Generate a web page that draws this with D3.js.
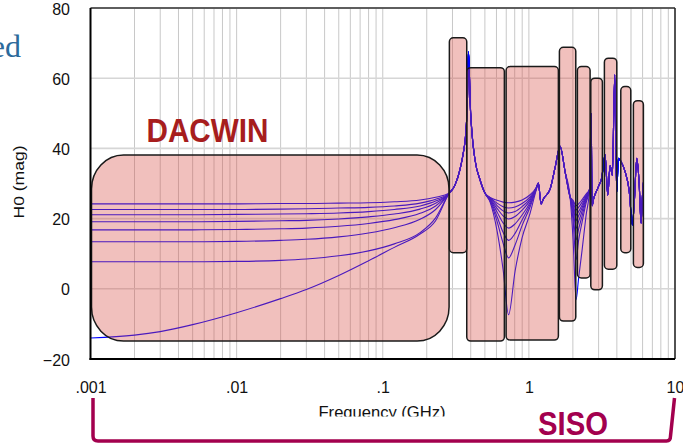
<!DOCTYPE html>
<html><head><meta charset="utf-8">
<script src="https://cdn.jsdelivr.net/npm/d3@7"></script>
<style>
html,body{margin:0;padding:0;background:#fff;}
svg{display:block;font-family:"Liberation Sans",Arial,sans-serif;}
</style></head><body>
<svg id="chart" width="683" height="444"></svg>
<script>
// ---- axis ticks ----
const xTicks = [0.001, 0.01, 0.1, 1, 10];
const xTickLabels = [".001", ".01", ".1", "1", "10"];
const yTicks = [-20, 0, 20, 40, 60, 80];

// ---- H0 magnitude responses (8 terminations), frequency in GHz ----
// low-frequency part, one row per response
const lowFreq = [0.001, 0.002, 0.003, 0.005, 0.01, 0.02, 0.03, 0.05, 0.08, 0.12, 0.18, 0.23, 0.2844];
const lowMag = [
  [24.2, 24.2, 24.2, 24.2, 24.2, 24.3, 24.3, 24.4, 24.5, 24.8, 25.3, 26.1, 27.2],
  [22.6, 22.6, 22.6, 22.6, 22.6, 22.7, 22.8, 23.0, 23.2, 23.6, 24.4, 25.5, 27.2],
  [21.1, 21.1, 21.1, 21.1, 21.2, 21.3, 21.4, 21.6, 22.0, 22.6, 23.6, 25.0, 27.2],
  [19.1, 19.1, 19.1, 19.1, 19.2, 19.4, 19.5, 19.9, 20.5, 21.3, 22.7, 24.4, 27.2],
  [16.8, 16.8, 16.8, 16.8, 16.9, 17.1, 17.3, 17.8, 18.6, 19.7, 21.5, 23.6, 27.2],
  [13.4, 13.4, 13.4, 13.4, 13.5, 13.8, 14.1, 14.8, 15.9, 17.4, 19.8, 22.6, 27.2],
  [7.7, 7.7, 7.7, 7.7, 7.8, 8.1, 8.5, 9.4, 10.8, 12.8, 16.0, 20.2, 27.2],
  [-14.0, -13.2, -12.2, -10.2, -6.8, -2.8, -0.2, 3.8, 8.0, 11.8, 15.6, 19.4, 27.2]
];
// first resonance, common to all responses
const riseFreq = [0.3126, 0.3382, 0.3561, 0.3700, 0.3804, 0.3856, 0.3914, 0.3958, 0.4066, 0.4282, 0.4634, 0.5014];
const riseMag = [29.6, 34.1, 38.8, 44.3, 55.0, 67.5, 62.0, 54.1, 45.2, 36.7, 31.0, 27.2];
// first anti-resonance, one row per response
const fan1Freq = [0.5426, 0.6058, 0.6660, 0.7261, 0.8045, 0.8983, 1.0190, 1.1202];
const fan1Mag = [
  [26.0, 25.2, 24.7, 24.5, 24.7, 25.3, 26.8, 28.8],
  [26.0, 24.4, 23.4, 23.0, 23.3, 24.3, 26.2, 28.7],
  [25.8, 23.7, 22.2, 21.6, 22.0, 23.4, 25.7, 28.6],
  [25.6, 22.9, 20.8, 19.9, 20.6, 22.4, 25.2, 28.5],
  [25.4, 21.9, 18.8, 17.3, 18.5, 21.0, 24.6, 28.4],
  [25.2, 20.6, 16.1, 13.8, 15.8, 19.6, 24.0, 28.3],
  [25.0, 19.2, 13.0, 8.8, 12.5, 18.0, 23.3, 28.2],
  [24.7, 16.5, 5.5, -7.4, 5.0, 14.5, 21.5, 28.0]
];
// common middle section
const midFreq = [1.1614, 1.2118, 1.2567, 1.3971, 1.511, 1.635, 1.769, 1.914];
const midMag = [30.1, 24.2, 25.6, 28.4, 34.5, 40.6, 33.4, 26.2];
// second anti-resonance, one row per response
const fan2Freq = [2.007, 2.104, 2.189, 2.313, 2.464];
const fan2Mag = [
  [25.2, 23.7, 24.2, 25.4, 27.0],
  [24.8, 22.5, 23.2, 24.7, 26.7],
  [24.2, 21.0, 22.0, 23.9, 26.4],
  [23.5, 19.5, 20.8, 23.1, 26.1],
  [22.6, 17.3, 19.2, 22.1, 25.7],
  [21.3, 14.0, 17.0, 20.8, 25.2],
  [19.5, 8.3, 13.8, 19.0, 24.5],
  [14.0, -3.1, 3.0, 11.0, 21.0]
];
// common high-frequency tail
const tailFreq = [2.604, 2.666, 2.708, 2.773, 2.991, 3.155, 3.323, 3.467, 3.595, 3.728, 3.87, 3.99, 4.099, 4.277, 4.554, 4.852, 5.111, 5.275, 5.478, 5.680, 5.862, 5.983, 6.078];
const tailMag = [28.4, 50.0, 23.7, 25.6, 29.1, 31.7, 38.2, 26.7, 35.1, 32.3, 61.0, 27.5, 37.2, 36.2, 33.4, 28.1, 18.2, 25.3, 37.2, 30.3, 18.7, 26.3, 30.3];

// ---- SISO bands: frequency span (GHz) and magnitude span ----
const bandLo = [0.2857, 0.3757, 0.6985, 1.618, 2.148, 2.653, 3.287, 4.256, 5.191];
const bandHi = [0.3757, 0.6797, 1.592, 2.094, 2.624, 3.185, 3.997, 4.982, 6.078];
const bandTop = [71.5, 63.0, 63.3, 68.8, 63.3, 60.0, 65.7, 57.6, 53.6];
const bandBottom = [10.3, -14.9, -14.6, -9.2, 3.1, -0.3, 5.6, 10.3, 6.1];
// ---- DACWIN band ----
const dacwinSpan = [0.001016, 0.2844];
const dacwinMag = [-14.9, 38.1];

const svg = d3.select("#chart");
const W = 683, H = 444;
const plotLeft = 90.5, plotRight = 675, plotTop = 8, plotBottom = 359;

const x = d3.scaleLog().domain([0.001, 10]).range([plotLeft, plotRight]);
const y = d3.scaleLinear().domain([-20, 80]).range([plotBottom, plotTop]);

// cut-off heading text at the top left
svg.append("text").attr("x", 21).attr("y", 57).attr("text-anchor", "end")
  .attr("font-family", "'Liberation Serif', serif").attr("font-size", 32)
  .attr("fill", "#2b6a9b").text("ed");

// grid
const grid = svg.append("g");
grid.selectAll("line.v").data(x.ticks()).join("line")
  .attr("x1", d => x(d)).attr("x2", d => x(d)).attr("y1", plotTop).attr("y2", plotBottom)
  .attr("stroke", "#c8c8c8").attr("stroke-width", 1);
grid.selectAll("line.h").data(yTicks).join("line")
  .attr("x1", plotLeft).attr("x2", plotRight).attr("y1", d => y(d)).attr("y2", d => y(d))
  .attr("stroke", "#d6d6d6").attr("stroke-width", 1.6);

// build each response from its segments
const responses = lowMag.map((row, i) => {
  const f = [].concat(lowFreq, riseFreq, fan1Freq, midFreq, fan2Freq, tailFreq);
  const m = [].concat(row, riseMag, fan1Mag[i], midMag, fan2Mag[i], tailMag);
  return f.map((fv, k) => [fv, m[k]]);
});

const line = d3.line().x(d => x(d[0])).y(d => y(d[1])).curve(d3.curveMonotoneX);
svg.append("g").selectAll("path").data(responses).join("path")
  .attr("d", line).attr("fill", "none").attr("stroke", "#0000ff").attr("stroke-width", 1.1);

// translucent bands drawn over the responses
const fill = "rgba(215,75,66,0.35)";
svg.append("rect")
  .attr("x", x(dacwinSpan[0])).attr("width", x(dacwinSpan[1]) - x(dacwinSpan[0]))
  .attr("y", y(dacwinMag[1])).attr("height", y(dacwinMag[0]) - y(dacwinMag[1]))
  .attr("rx", 32).attr("ry", 34)
  .attr("fill", fill).attr("stroke", "#1a1a1a").attr("stroke-width", 1.5);

svg.append("g").selectAll("rect").data(bandLo).join("rect")
  .attr("x", (d, i) => x(bandLo[i])).attr("width", (d, i) => x(bandHi[i]) - x(bandLo[i]))
  .attr("y", (d, i) => y(bandTop[i])).attr("height", (d, i) => y(bandBottom[i]) - y(bandTop[i]))
  .attr("rx", 4).attr("ry", 4)
  .attr("fill", fill).attr("stroke", "#1a1a1a").attr("stroke-width", 1.5);

// frame
svg.append("line").attr("x1", plotLeft).attr("x2", plotRight).attr("y1", plotTop).attr("y2", plotTop).attr("stroke", "#333").attr("stroke-width", 1.5);
svg.append("line").attr("x1", plotRight).attr("x2", plotRight).attr("y1", plotTop).attr("y2", plotBottom).attr("stroke", "#222").attr("stroke-width", 1.5);
svg.append("line").attr("x1", plotLeft).attr("x2", plotLeft).attr("y1", plotTop).attr("y2", plotBottom + 1).attr("stroke", "#000").attr("stroke-width", 2);
svg.append("line").attr("x1", plotLeft - 1).attr("x2", plotRight).attr("y1", plotBottom).attr("y2", plotBottom).attr("stroke", "#000").attr("stroke-width", 2);

// axes labels
const xa = svg.append("g").attr("transform", `translate(0,${plotBottom})`)
  .call(d3.axisBottom(x).tickValues(xTicks).tickFormat((d, i) => xTickLabels[i]).tickSize(0).tickPadding(22.6));
xa.select(".domain").remove();
xa.selectAll("text").attr("font-size", 16).attr("font-family", "'Liberation Sans',Arial,sans-serif").attr("fill", "#111");

const ya = svg.append("g").attr("transform", `translate(${plotLeft},0)`)
  .call(d3.axisLeft(y).tickValues(yTicks).tickFormat(d3.format("d")).tickSize(0).tickPadding(20.5));
ya.select(".domain").remove();
ya.selectAll("text").attr("font-size", 16).attr("font-family", "'Liberation Sans',Arial,sans-serif").attr("fill", "#111").attr("dy", "0.38em");

svg.append("text").attr("transform", "translate(24,182) rotate(-90)")
  .attr("text-anchor", "middle").attr("font-size", 15).attr("fill", "#111")
  .attr("textLength", 73).attr("lengthAdjust", "spacingAndGlyphs").text("H0 (mag)");

svg.append("clipPath").attr("id", "xlabClip").append("rect")
  .attr("x", 0).attr("y", 395).attr("width", W).attr("height", 21.5);
svg.append("text").attr("x", 382).attr("y", 417.5).attr("text-anchor", "middle")
  .attr("clip-path", "url(#xlabClip)")
  .attr("font-size", 16).attr("fill", "#111")
  .attr("textLength", 127).attr("lengthAdjust", "spacingAndGlyphs").text("Frequency (GHz)");

// annotations
svg.append("text").attr("x", 207.5).attr("y", 142.3).attr("text-anchor", "middle")
  .attr("font-size", 33).attr("font-weight", "bold").attr("fill", "#a71d1d")
  .attr("textLength", 122).attr("lengthAdjust", "spacingAndGlyphs").text("DACWIN");

const sisoColor = "#a3004e";
const bx0 = x(0.001) + 2.5, bx1 = x(10) - 0.5;
svg.append("path")
  .attr("d", `M${bx0},398 L${bx0},436 Q${bx0},441 ${bx0 + 5},441 L${bx1 - 8},441 Q${bx1 - 4},441 ${bx1 - 4},436 L${bx1},398`)
  .attr("fill", "none").attr("stroke", sisoColor).attr("stroke-width", 3.5);
svg.append("text").attr("x", 573).attr("y", 435).attr("text-anchor", "middle")
  .attr("font-size", 34).attr("font-weight", "bold").attr("fill", sisoColor)
  .attr("textLength", 70).attr("lengthAdjust", "spacingAndGlyphs").text("SISO");
</script>
</body></html>
